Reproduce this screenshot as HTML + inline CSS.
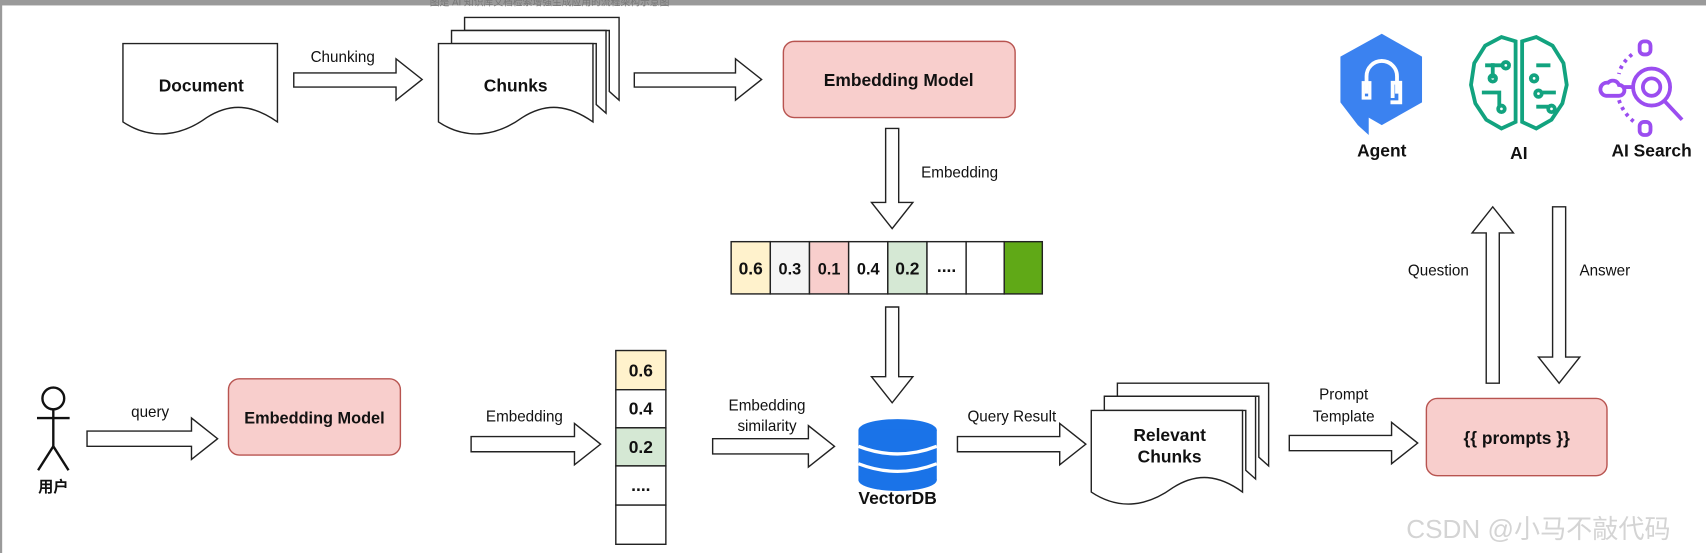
<!DOCTYPE html>
<html><head><meta charset="utf-8"><style>
html,body{margin:0;padding:0;background:#fff;}
svg{display:block;}
text{font-family:"Liberation Sans","Noto Sans CJK SC",sans-serif;}
.l{font-size:14px;fill:#111;}
.b{font-size:16px;font-weight:bold;fill:#111;}
</style></head><body>
<svg width="1706" height="553" viewBox="0 0 1568 508" preserveAspectRatio="none" xmlns="http://www.w3.org/2000/svg">
<rect x="0" y="0" width="1568" height="508" fill="#fff"/>
<rect x="0" y="0" width="1568" height="5" fill="#9a9a9a"/>
<rect x="0" y="0" width="2" height="508" fill="#9a9a9a"/>
<text x="395" y="5" font-size="9" fill="#777">图是 AI 知识库文档检索增强生成应用的流程架构示意图</text>

<g fill="#fff" stroke="#222" stroke-width="1.3">
<!-- Document -->
<path d="M113,40 H255 V112 C232,96 212,94 190,108 C168,124 140,130 113,112 Z"/>
<!-- Chunks -->
<path d="M427,16 H569 V92 L560,84 V28 H427 Z"/>
<path d="M415,28 H557 V104 L548,96 V40 H415 Z"/>
<path d="M403,40 H545 V112 C522,96 502,94 480,108 C458,124 430,130 403,112 Z"/>
<!-- Relevant chunks -->
<path d="M1027,352 H1166 V428 L1157,420 V364 H1027 Z"/>
<path d="M1015,364 H1154 V440 L1145,432 V377 H1015 Z"/>
<path d="M1003,377 H1142 V452 C1120,436 1100,434 1078,448 C1056,464 1030,470 1003,452 Z"/>

<!-- horizontal arrows: shaft half 7, head half 19, head len 24 -->
<path d="M270,67 H364 V54 L388,73 L364,92 V80 H270 Z"/>
<path d="M583,67 H676 V54 L700,73 L676,92 V80 H583 Z"/>
<path d="M80,396 H176 V384 L200,403 L176,422 V410 H80 Z"/>
<path d="M433,401 H528 V389 L552,408 L528,427 V415 H433 Z"/>
<path d="M655,403 H743 V391 L767,410 L743,429 V417 H655 Z"/>
<path d="M880,401 H974 V389 L998,408 L974,427 V415 H880 Z"/>
<path d="M1185,400 H1279 V388 L1303,407 L1279,426 V414 H1185 Z"/>
<!-- vertical arrows -->
<path d="M814,118 V186 H801 L820,210 L839,186 H826 V118 Z"/>
<path d="M814,282 V346 H801 L820,370 L839,346 H826 V282 Z"/>
<path d="M1366,352 V214 H1353 L1372,190 L1391,214 H1378 V352 Z"/>
<path d="M1427,190 V328 H1414 L1433,352 L1452,328 H1439 V190 Z"/>
</g>

<text class="b" x="185" y="84" text-anchor="middle">Document</text>
<text class="l" x="315" y="57" text-anchor="middle">Chunking</text>
<text class="b" x="474" y="84" text-anchor="middle">Chunks</text>

<rect x="720" y="38" width="213" height="70" rx="10" fill="#f8cecc" stroke="#b85450" stroke-width="1.3"/>
<text class="b" x="826" y="79" text-anchor="middle">Embedding Model</text>
<text class="l" x="882" y="163" text-anchor="middle">Embedding</text>

<!-- horizontal vector -->
<g stroke="#222" stroke-width="1.3">
<rect x="672" y="222" width="36" height="48" fill="#fff2cc"/>
<rect x="708" y="222" width="36" height="48" fill="#f5f5f5"/>
<rect x="744" y="222" width="36" height="48" fill="#f8cecc"/>
<rect x="780" y="222" width="36" height="48" fill="#fff"/>
<rect x="816" y="222" width="36" height="48" fill="#d5e8d4"/>
<rect x="852" y="222" width="36" height="48" fill="#fff"/>
<rect x="888" y="222" width="35" height="48" fill="#fff"/>
<rect x="923" y="222" width="35" height="48" fill="#60a917"/>
</g>
<g class="b" text-anchor="middle" font-size="15">
<text class="b" x="690" y="252">0.6</text>
<text class="l" x="726" y="252" style="font-size:15px">0.3</text>
<text class="l" x="762" y="252" style="font-size:15px">0.1</text>
<text class="l" x="798" y="252" style="font-size:15px">0.4</text>
<text class="b" x="834" y="252">0.2</text>
<text class="b" x="870" y="250">....</text>
</g>

<!-- person -->
<g stroke="#111" stroke-width="2.2" fill="none">
<circle cx="49" cy="366" r="10"/>
<line x1="49" y1="376" x2="49" y2="410"/>
<line x1="34" y1="384" x2="64" y2="384"/>
<line x1="49" y1="410" x2="35" y2="432"/>
<line x1="49" y1="410" x2="63" y2="432"/>
</g>
<text class="b" x="49" y="452" text-anchor="middle" style="font-size:14px">用户</text>
<text class="l" x="138" y="383" text-anchor="middle">query</text>

<rect x="210" y="348" width="158" height="70" rx="10" fill="#f8cecc" stroke="#b85450" stroke-width="1.3"/>
<text class="b" x="289" y="416" text-anchor="middle" style="font-size:15px" dy="-27">Embedding Model</text>
<text class="l" x="482" y="387" text-anchor="middle">Embedding</text>

<!-- vertical vector -->
<g stroke="#222" stroke-width="1.3">
<rect x="566" y="322" width="46" height="36" fill="#fff2cc"/>
<rect x="566" y="358" width="46" height="35" fill="#fff"/>
<rect x="566" y="393" width="46" height="35" fill="#d5e8d4"/>
<rect x="566" y="428" width="46" height="36" fill="#fff"/>
<rect x="566" y="464" width="46" height="36" fill="#fff"/>
</g>
<text class="b" x="589" y="346" text-anchor="middle">0.6</text>
<text class="b" x="589" y="381" text-anchor="middle">0.4</text>
<text class="b" x="589" y="416" text-anchor="middle">0.2</text>
<text class="b" x="589" y="451" text-anchor="middle">....</text>

<text class="l" x="705" y="377" text-anchor="middle">Embedding</text>
<text class="l" x="705" y="396" text-anchor="middle">similarity</text>

<!-- VectorDB -->
<g fill="#1a73e8">
<ellipse cx="825" cy="395" rx="36" ry="10"/>
<rect x="789" y="395" width="72" height="46" />
<ellipse cx="825" cy="441" rx="36" ry="10"/>
</g>
<g fill="none" stroke="#fff" stroke-width="3">
<path d="M789,410 Q825,424 861,410"/>
<path d="M789,426 Q825,440 861,426"/>
</g>
<text class="b" x="825" y="463" text-anchor="middle">VectorDB</text>

<text class="l" x="930" y="387" text-anchor="middle">Query Result</text>
<text class="b" x="1075" y="405" text-anchor="middle">Relevant</text>
<text class="b" x="1075" y="425" text-anchor="middle">Chunks</text>
<text class="l" x="1235" y="367" text-anchor="middle">Prompt</text>
<text class="l" x="1235" y="387" text-anchor="middle">Template</text>

<rect x="1311" y="366" width="166" height="71" rx="10" fill="#f8cecc" stroke="#b85450" stroke-width="1.3"/>
<text class="b" x="1394" y="408" text-anchor="middle">{{ prompts }}</text>

<text class="l" x="1322" y="253" text-anchor="middle">Question</text>
<text class="l" x="1475" y="253" text-anchor="middle">Answer</text>

<!-- Agent icon -->
<path d="M1270,31 L1307,52 V94 L1270,115 L1258,108 V124 L1248,115 L1232,94 V52 Z" fill="#3b82f0"/>
<path d="M1256,86 V70 A14,14 0 0 1 1284,70 V86 M1278,94 H1287 V76 H1280 V90" fill="none" stroke="#fff" stroke-width="3.5"/>
<rect x="1253" y="76" width="6" height="14" fill="none" stroke="#fff" stroke-width="3"/>
<text class="b" x="1270" y="144" text-anchor="middle">Agent</text>

<!-- AI brain -->
<g fill="none" stroke="#12a37f" stroke-width="3.5">
<path d="M1393,38 L1380,34 L1365,42 L1355,58 L1352,78 L1356,95 L1366,110 L1380,118 L1393,112 Z"/>
<path d="M1399,38 L1412,34 L1427,42 L1437,58 L1440,78 L1436,95 L1426,110 L1412,118 L1399,112 Z"/>
<path d="M1365,60 H1380 M1362,85 H1378 V98 M1372,72 V58 M1412,60 H1425 M1418,85 H1430 M1412,98 H1424"/>
<circle cx="1384" cy="60" r="3"/><circle cx="1372" cy="72" r="3"/><circle cx="1380" cy="100" r="3"/>
<circle cx="1410" cy="72" r="3"/><circle cx="1414" cy="86" r="3"/><circle cx="1426" cy="100" r="3"/>
</g>
<text class="b" x="1396" y="146" text-anchor="middle">AI</text>

<!-- AI Search -->
<g fill="none" stroke="#9b4df0" stroke-width="3.5">
<circle cx="1518" cy="80" r="17"/>
<circle cx="1518" cy="80" r="8"/>
<line x1="1530" y1="93" x2="1546" y2="110"/>
<path d="M1500,80 H1492 M1478,76 a6,6 0 0 1 10,2 a5,5 0 0 1 0,10 h-12 a5,5 0 0 1 2,-12z"/>
<rect x="1507" y="38" width="10" height="12" rx="4"/>
<rect x="1507" y="112" width="10" height="12" rx="4"/>
<path d="M1500,50 Q1490,58 1488,68 M1488,92 Q1492,104 1502,112" stroke-dasharray="3 4"/>
</g>
<text class="b" x="1518" y="144" text-anchor="middle">AI Search</text>

<text x="1414" y="494" text-anchor="middle" font-size="24" fill="#d4d4d4" style="font-family:'Liberation Sans','Noto Sans CJK SC',sans-serif">CSDN @小马不敲代码</text>
</svg>
</body></html>
